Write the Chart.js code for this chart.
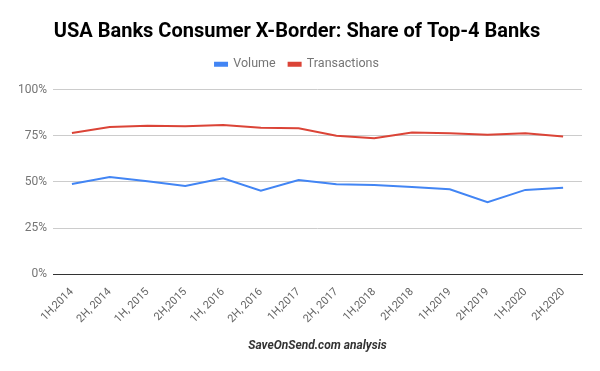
<!DOCTYPE html>
<html>
<head>
<meta charset="utf-8">
<script src="https://cdn.jsdelivr.net/npm/chart.js@4/dist/chart.umd.min.js"></script>
<style>
  html, body { margin: 0; padding: 0; background: #fff; }
  #wrap { width: 600px; height: 371px; }
</style>
</head>
<body>
<div id="wrap"><canvas id="grafico" width="600" height="371"></canvas></div>
<script>
// ===============================
//  DATI
// ===============================
const periodi = ["1H,2014", "2H, 2014", "1H, 2015", "2H,2015", "1H, 2016", "2H, 2016", "1H,2017",
  "2H, 2017", "1H,2018", "2H,2018", "1H,2019", "2H,2019", "1H,2020", "2H,2020"];
const volume = [48.9, 52.7, 50.4, 47.8, 52.0, 45.3, 51.1, 48.7, 48.4, 47.3, 46.0, 39.0, 45.7, 46.9];
const transazioni = [76.5, 79.7, 80.4, 80.1, 80.8, 79.3, 79.0, 75.0, 73.7, 76.8, 76.3, 75.5, 76.3, 74.6];
const yTicks = [0, 25, 50, 75, 100];

// ===============================
//  GRAFICO
// ===============================
Chart.defaults.font.family = "Roboto, 'Open Sans', sans-serif";

// spazio extra sotto la legenda
const legendaSpazio = {
  id: "legendaSpazio",
  beforeInit(chart) {
    const fit = chart.legend.fit;
    chart.legend.fit = function () {
      fit.bind(chart.legend)();
      this.height += 9;
    };
  }
};

const ctx = document.getElementById("grafico").getContext("2d");

new Chart(ctx, {
  type: "line",
  data: {
    labels: periodi,
    datasets: [
      {
        label: "Volume",
        data: volume,
        borderColor: "#4285f4",
        backgroundColor: "#4285f4",
        borderWidth: 2,
        pointRadius: 0,
        tension: 0
      },
      {
        label: "Transactions",
        data: transazioni,
        borderColor: "#db4437",
        backgroundColor: "#db4437",
        borderWidth: 2,
        pointRadius: 0,
        tension: 0
      }
    ]
  },
  plugins: [legendaSpazio],
  options: {
    responsive: false,
    animation: false,
    layout: { padding: { left: 12, right: 18, top: 20, bottom: 14 } },
    plugins: {
      title: {
        display: true,
        text: "USA Banks Consumer X-Border: Share of Top-4 Banks",
        color: "#000",
        font: { size: 20, weight: "bold" },
        padding: { top: 0, bottom: 1 }
      },
      legend: {
        labels: {
          color: "#757575",
          font: { size: 12.5 },
          boxWidth: 12,
          boxHeight: 3,
          padding: 13
        }
      },
      tooltip: { enabled: false }
    },
    scales: {
      x: {
        offset: true,
        grid: { display: false },
        border: { color: "#333", width: 1 },
        ticks: {
          color: "#666",
          font: { size: 11 },
          minRotation: 45,
          maxRotation: 45,
          autoSkip: false
        },
        title: {
          display: true,
          text: "SaveOnSend.com analysis",
          color: "#333",
          font: { size: 12, style: "italic", weight: "bold" },
          padding: { top: 10 }
        }
      },
      y: {
        min: 0,
        max: 100,
        afterBuildTicks: axis => { axis.ticks = yTicks.map(v => ({ value: v })); },
        grid: { color: "#ccc", drawTicks: false },
        border: { display: false },
        ticks: {
          color: "#757575",
          font: { size: 12 },
          padding: 6,
          callback: v => v + "%"
        }
      }
    }
  }
});
</script>
</body>
</html>
